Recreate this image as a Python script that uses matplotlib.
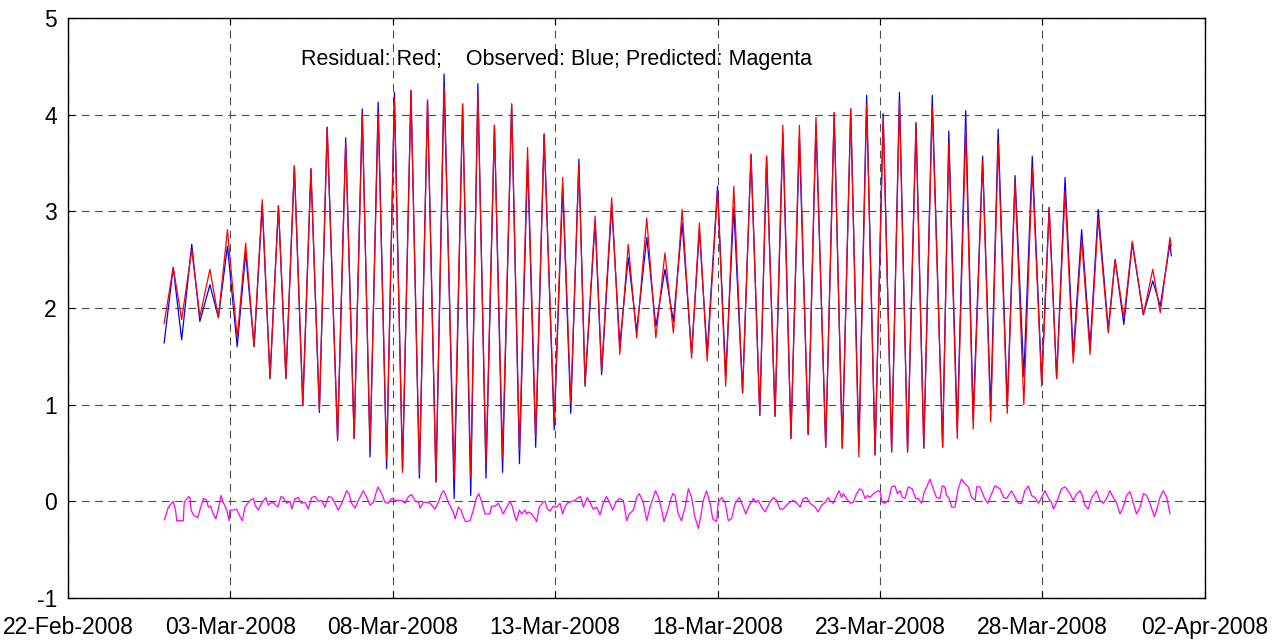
import matplotlib.pyplot as plt

plt.rcParams['font.family'] = ['Liberation Sans', 'DejaVu Sans']
plt.rcParams['axes.unicode_minus'] = False

# tick labels (evenly spaced on the axis, as in the original plot)
tick_pos = [0, 5, 10, 15, 20, 25, 30, 35]
tick_labels = ['22-Feb-2008', '03-Mar-2008', '08-Mar-2008', '13-Mar-2008',
               '18-Mar-2008', '23-Mar-2008', '28-Mar-2008', '02-Apr-2008']

# high / low water turning points (axis days)
t_ext = [2.96, 3.24, 3.50, 3.81, 4.06, 4.37, 4.63, 4.91, 5.21, 5.47, 5.73, 5.98,
         6.22, 6.48, 6.71, 6.97, 7.23, 7.48, 7.74, 7.98, 8.30, 8.55, 8.81, 9.06,
         9.30, 9.55, 9.81, 10.05, 10.30, 10.56, 10.82, 11.07, 11.33, 11.58, 11.89, 12.15,
         12.40, 12.62, 12.87, 13.13, 13.38, 13.66, 13.90, 14.15, 14.40, 14.66, 14.97, 15.23,
         15.48, 15.73, 15.92, 16.23, 16.43, 16.74, 16.99, 17.25, 17.51, 17.82, 18.10, 18.38,
         18.64, 18.91, 19.20, 19.44, 19.68, 20.00, 20.25, 20.50, 20.77, 21.03, 21.30, 21.51,
         21.77, 22.01, 22.26, 22.52, 22.79, 23.03, 23.33, 23.59, 23.84, 24.10, 24.35, 24.59,
         24.85, 25.10, 25.36, 25.60, 25.85, 26.11, 26.35, 26.61, 26.93, 27.12, 27.38, 27.64,
         27.87, 28.16, 28.41, 28.64, 28.92, 29.16, 29.43, 29.69, 29.98, 30.21, 30.44, 30.70,
         30.95, 31.21, 31.47, 31.72, 32.03, 32.24, 32.51, 32.77, 33.11, 33.40, 33.63, 33.93,
         33.97]

red = [1.84, 2.42, 1.88, 2.60, 1.91, 2.40, 1.90, 2.81, 1.69, 2.67, 1.60, 3.12,
       1.27, 3.06, 1.27, 3.47, 0.99, 3.44, 0.94, 3.87, 0.65, 3.71, 0.65, 4.00,
       0.55, 4.02, 0.43, 4.16, 0.30, 4.25, 0.29, 4.15, 0.20, 4.28, 0.24, 4.11,
       0.25, 4.23, 0.37, 3.89, 0.46, 4.11, 0.53, 3.66, 0.67, 3.80, 0.82, 3.35,
       1.01, 3.49, 1.22, 2.95, 1.34, 3.14, 1.52, 2.66, 1.69, 2.93, 1.69, 2.57,
       1.74, 3.02, 1.48, 2.88, 1.45, 3.22, 1.19, 3.26, 1.12, 3.59, 0.89, 3.57,
       0.88, 3.89, 0.65, 3.89, 0.69, 3.97, 0.56, 4.02, 0.55, 4.06, 0.46, 4.11,
       0.48, 3.97, 0.51, 4.13, 0.51, 3.90, 0.55, 4.08, 0.56, 3.71, 0.65, 3.85,
       0.75, 3.52, 0.82, 3.71, 0.91, 3.31, 1.00, 3.45, 1.19, 3.04, 1.27, 3.21,
       1.43, 2.71, 1.52, 2.93, 1.74, 2.50, 1.90, 2.69, 1.93, 2.40, 1.95, 2.73,
       2.64]

blue = [1.64, 2.42, 1.67, 2.66, 1.86, 2.24, 1.90, 2.64, 1.60, 2.57, 1.60, 3.06,
        1.27, 3.06, 1.27, 3.47, 0.99, 3.44, 0.92, 3.87, 0.63, 3.76, 0.65, 4.06,
        0.46, 4.13, 0.34, 4.23, 0.32, 4.25, 0.24, 4.15, 0.20, 4.42, 0.03, 4.11,
        0.06, 4.32, 0.24, 3.89, 0.30, 4.11, 0.39, 3.54, 0.56, 3.80, 0.74, 3.26,
        0.91, 3.54, 1.19, 2.90, 1.31, 3.06, 1.62, 2.52, 1.76, 2.73, 1.81, 2.40,
        1.86, 2.88, 1.53, 2.80, 1.53, 3.26, 1.29, 3.04, 1.12, 3.59, 0.89, 3.57,
        0.88, 3.80, 0.65, 3.76, 0.69, 3.90, 0.56, 4.02, 0.55, 4.06, 0.56, 4.20,
        0.48, 4.01, 0.51, 4.23, 0.51, 3.92, 0.55, 4.20, 0.56, 3.83, 0.74, 4.04,
        0.86, 3.57, 0.94, 3.85, 0.98, 3.37, 1.29, 3.57, 1.24, 3.04, 1.27, 3.35,
        1.52, 2.81, 1.60, 3.02, 1.78, 2.50, 1.83, 2.67, 1.93, 2.28, 2.02, 2.67,
        2.54]

# residual series
t_res = [2.97, 3.09, 3.24, 3.31, 3.35, 3.55, 3.58, 3.71, 3.76, 3.79, 3.86, 3.99,
         4.06, 4.17, 4.27, 4.32, 4.39, 4.47, 4.55, 4.63, 4.71, 4.78, 4.89, 4.96,
         4.99, 5.09, 5.19, 5.30, 5.37, 5.45, 5.60, 5.71, 5.76, 5.86, 5.96, 6.09,
         6.17, 6.22, 6.32, 6.46, 6.56, 6.63, 6.73, 6.84, 6.89, 6.99, 7.09, 7.19,
         7.30, 7.40, 7.50, 7.61, 7.71, 7.81, 7.91, 8.02, 8.12, 8.22, 8.32, 8.43,
         8.58, 8.65, 8.73, 8.84, 8.94, 9.09, 9.20, 9.30, 9.40, 9.54, 9.66, 9.76,
         9.86, 9.97, 10.07, 10.27, 10.38, 10.48, 10.58, 10.68, 10.79, 10.84, 10.94, 11.04,
         11.15, 11.30, 11.40, 11.50, 11.56, 11.61, 11.71, 11.86, 11.92, 12.02, 12.10, 12.17,
         12.24, 12.38, 12.48, 12.58, 12.65, 12.74, 12.84, 12.99, 13.04, 13.15,
         13.25, 13.40, 13.51, 13.61, 13.69, 13.76, 13.81, 13.90, 13.97, 14.07, 14.12, 14.17,
         14.28, 14.38, 14.43, 14.51, 14.63, 14.69, 14.76, 14.84, 14.94, 15.05, 15.15, 15.23,
         15.30, 15.37, 15.51, 15.61, 15.71, 15.78, 15.87, 15.99, 16.07, 16.17, 16.28, 16.38,
         16.48, 16.58, 16.67, 16.77, 16.87, 16.98, 17.10, 17.20, 17.28, 17.41, 17.51, 17.59,
         17.71, 17.82, 17.92, 18.02, 18.09, 18.18, 18.28, 18.35, 18.43, 18.55, 18.62, 18.69,
         18.79, 18.89, 19.00, 19.10, 19.20, 19.30, 19.41, 19.48, 19.56, 19.66, 19.77, 19.85,
         19.97, 20.02, 20.13, 20.23, 20.33, 20.43, 20.54, 20.67, 20.79, 20.87, 20.98, 21.10,
         21.18, 21.25, 21.36, 21.46, 21.61, 21.72, 21.82, 21.92, 22.02, 22.18, 22.33, 22.44,
         22.54, 22.64, 22.74, 22.85, 23.00, 23.10, 23.20, 23.31, 23.41, 23.46,
         23.56, 23.67, 23.74, 23.82, 23.87, 23.97, 24.08, 24.18, 24.28, 24.38, 24.46, 24.54,
         24.62, 24.69, 24.80, 24.95, 25.00, 25.07, 25.15, 25.26, 25.36, 25.46, 25.54, 25.62,
         25.69, 25.77, 25.87, 25.99, 26.10, 26.18, 26.28, 26.37, 26.44, 26.54, 26.64, 26.74,
         26.85, 26.92, 27.00, 27.05, 27.12, 27.21, 27.31, 27.41, 27.51, 27.62, 27.72, 27.82,
         27.93, 27.98, 28.08, 28.21, 28.32, 28.39, 28.54, 28.70, 28.80, 28.90, 29.05, 29.16,
         29.26, 29.36, 29.46, 29.57, 29.67, 29.77, 29.88, 29.98, 30.08, 30.18, 30.29, 30.34,
         30.44, 30.59, 30.70, 30.85, 30.95, 31.06, 31.16, 31.23, 31.31, 31.41, 31.52, 31.67,
         31.77, 31.88, 31.98, 32.08, 32.18, 32.29, 32.39, 32.49, 32.59, 32.70, 32.80, 32.90,
         33.01, 33.11, 33.21, 33.31, 33.45, 33.52, 33.62, 33.72, 33.83, 33.93]

res = [-0.19, -0.06, 0.00, -0.09, -0.20, -0.20, -0.01, 0.05, 0.03, -0.09, -0.14, -0.17,
       -0.09, 0.03, 0.01, -0.06, -0.05, -0.13, -0.18, -0.08, 0.06, -0.01, -0.09, -0.20,
       -0.09, -0.09, -0.08, -0.16, -0.20, -0.06, 0.01, 0.03, -0.04, -0.09, -0.02, 0.04,
       -0.04, -0.02, -0.01, -0.06, 0.05, 0.04, -0.02, 0.00, -0.08, 0.03, 0.04, -0.02,
       -0.01, -0.08, 0.04, 0.05, 0.00, 0.01, -0.06, 0.05, 0.04, -0.02, -0.09, -0.02,
       0.11, 0.08, -0.02, -0.07, 0.01, 0.11, 0.04, -0.04, -0.01, 0.15, 0.08, -0.01,
       -0.02, 0.03, 0.01, 0.01, -0.02, 0.05, 0.07, 0.01, -0.01, -0.07, -0.01, -0.01,
       -0.02, -0.08, -0.01, 0.08, 0.11, 0.08, -0.01, -0.11, -0.18, -0.06, -0.09, -0.16,
       -0.21, -0.20, -0.09, 0.04, 0.08, -0.01, -0.13, -0.13, -0.05, -0.05,
       -0.02, -0.13, -0.06, 0.00, -0.06, -0.16, -0.20, -0.09, -0.13, -0.09, -0.13, -0.11,
       -0.13, -0.18, -0.21, -0.06, -0.01, 0.00, -0.08, -0.10, -0.05, -0.06, -0.02, -0.13,
       -0.06, -0.02, 0.00, 0.01, 0.04, 0.05, -0.06, 0.04, -0.01, -0.08, -0.06, -0.14,
       -0.02, 0.05, -0.01, -0.09, -0.01, 0.03, 0.01, -0.20, -0.13, -0.09, 0.04, 0.08,
       -0.01, -0.20, -0.06, 0.04, 0.11, 0.04, -0.09, -0.21, -0.13, 0.01, 0.08, 0.06,
       -0.13, -0.20, -0.06, 0.13, 0.04, -0.16, -0.28, -0.16, 0.01, 0.11, -0.02, -0.18,
       -0.21, -0.01, 0.04, -0.01, -0.20, -0.18, -0.02, 0.04, -0.06, -0.13, -0.04, 0.03,
       -0.01, 0.01, -0.06, -0.11, -0.01, 0.04, 0.01, -0.08, -0.08, -0.02, 0.01, -0.02,
       -0.06, 0.03, 0.04, -0.02, -0.06, -0.11, -0.04, -0.01, 0.04, 0.01,
       -0.02, 0.06, 0.11, 0.04, 0.08, 0.03, -0.02, -0.01, 0.08, 0.13, 0.11, 0.03,
       0.06, 0.04, 0.08, 0.11, 0.10, -0.01, -0.02, 0.01, 0.15, 0.16, 0.08, 0.11,
       0.04, 0.03, 0.15, 0.13, 0.03, 0.03, -0.02, 0.10, 0.15, 0.23, 0.13, 0.04,
       0.03, 0.16, 0.15, 0.06, 0.04, -0.06, -0.06, 0.13, 0.23, 0.18, 0.15, 0.04,
       0.01, 0.15, 0.15, 0.04, -0.02, 0.04, 0.16, 0.13, 0.04, 0.03, 0.11, 0.04,
       -0.02, -0.02, 0.11, 0.16, 0.06, 0.04, -0.02, 0.04, 0.11, 0.04, -0.02, -0.08,
       -0.01, 0.13, 0.15, 0.08, 0.01, 0.08, 0.11, 0.06, -0.04, -0.08, 0.04, 0.11,
       0.01, -0.02, 0.03, 0.11, 0.04, -0.02, -0.13, -0.06, 0.06, 0.10, -0.02, -0.13,
       -0.06, 0.08, 0.06, -0.02, -0.16, -0.09, 0.04, 0.11, 0.04, -0.13]

fig = plt.figure(figsize=(12.83, 6.42), dpi=100)
ax = fig.add_axes([0.053, 0.0685, 0.886, 0.9035])

ax.plot(t_ext, blue, color='#0000ff', lw=0.9)
ax.plot(t_ext, red, color='#ff0000', lw=0.9)
ax.plot(t_res, res, color='#ff00ff', lw=0.9)

ax.set_xlim(0, 35)
ax.set_ylim(-1, 5)
ax.set_xticks(tick_pos)
ax.set_xticklabels(tick_labels)
ax.set_yticks(range(-1, 6))
ax.tick_params(direction='in', top=True, right=True, length=5, labelsize=16.5)
ax.tick_params(axis='x', pad=13)
ax.tick_params(axis='y', pad=8)
ax.grid(True, color='0.3', linestyle=(0, (7, 5)), lw=0.8)
for s in ax.spines.values():
    s.set_linewidth(1.0)

ax.text(15.05, 4.57, 'Residual: Red;    Observed: Blue; Predicted: Magenta',
        ha='center', va='center', fontsize=15.5)

fig.savefig('out.png', dpi=100)
